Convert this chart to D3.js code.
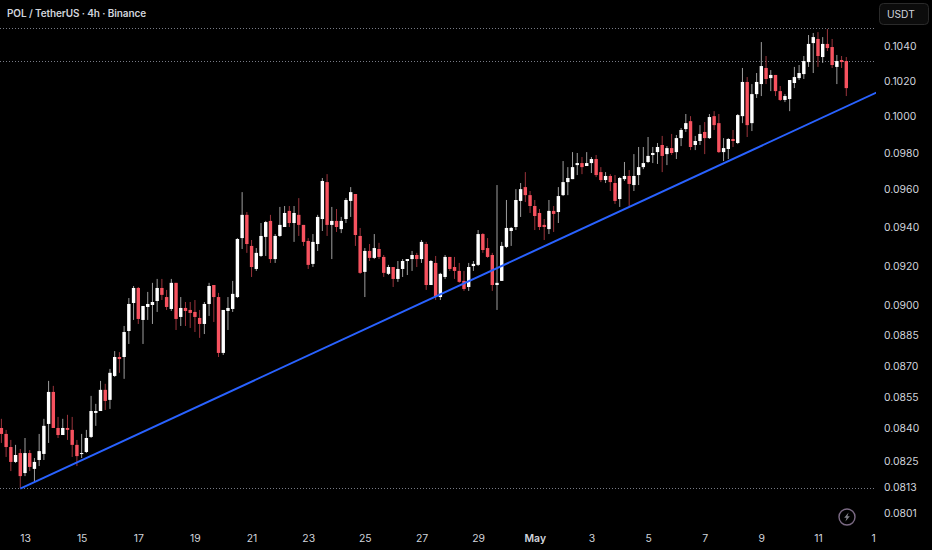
<!DOCTYPE html>
<html>
<head>
<meta charset="utf-8">
<style>
  html, body { margin: 0; padding: 0; background: #000; }
  svg { display: block; }
  text { font-family: Inter, "Noto Sans", sans-serif; }
</style>
<script src="https://cdn.jsdelivr.net/npm/d3@7"></script>
</head>
<body>
<svg id="chart" width="932" height="550"></svg>
<script>
const title = 'POL / TetherUS · 4h · Binance';
const currency = 'USDT';

// 4h candles, oldest first
const opens = [
  0.08400,0.08372,0.08311,0.08242,0.08283,0.08191,0.08283,0.08210,0.08251,0.08279,
  0.08419,0.08571,0.08400,0.08367,0.08400,0.08391,0.08321,0.08279,0.08288,0.08358,
  0.08471,0.08480,0.08581,0.08533,0.08648,0.08740,0.08740,0.08868,0.09008,0.09084,
  0.08923,0.08988,0.08998,0.09018,0.09084,0.09038,0.08978,0.09110,0.08938,0.08983,
  0.08973,0.08963,0.08933,0.08903,0.09003,0.09099,0.09038,0.08760,0.08968,0.08978,
  0.09038,0.09341,0.09463,0.09300,0.09181,0.09248,0.09347,0.09431,0.09232,0.09352,
  0.09399,0.09484,0.09420,0.09463,0.09410,0.09326,0.09207,0.09310,0.09441,0.09638,
  0.09410,0.09431,0.09388,0.09441,0.09537,0.09574,0.09352,0.09166,0.09274,0.09238,
  0.09284,0.09243,0.09156,0.09191,0.09130,0.09181,0.09222,0.09232,0.09253,0.09232,
  0.09310,0.09099,0.09212,0.09038,0.09140,0.09243,0.09191,0.09171,0.09120,0.09089,
  0.09196,0.09202,0.09362,0.09289,0.09253,0.09099,0.09120,0.09295,0.09378,0.09399,
  0.09537,0.09611,0.09568,0.09510,0.09473,0.09410,0.09388,0.09484,0.09478,0.09568,
  0.09638,0.09654,0.09730,0.09741,0.09725,0.09741,0.09763,0.09692,0.09649,0.09671,
  0.09633,0.09547,0.09654,0.09671,0.09622,0.09676,0.09719,0.09747,0.09785,0.09801,
  0.09840,0.09790,0.09823,0.09801,0.09878,0.09928,0.09972,0.09840,0.09862,0.09912,
  0.09878,0.10000,0.09961,0.09801,0.09818,0.09873,0.09851,0.10000,0.10193,0.09961,
  0.10124,0.10181,0.10273,0.10215,0.10233,0.10141,0.10091,0.10096,0.10187,0.10215,
  0.10238,0.10307,0.10417,0.10441,0.10336,0.10412,0.10394,0.10279,0.10319,0.10313,
];
const highs = [
  0.08443,0.08391,0.08344,0.08321,0.08302,0.08353,0.08297,0.08260,0.08372,0.08443,
  0.08624,0.08600,0.08452,0.08443,0.08462,0.08452,0.08344,0.08372,0.08391,0.08552,
  0.08514,0.08624,0.08610,0.08682,0.08769,0.08764,0.08893,0.09033,0.09094,0.09089,
  0.08993,0.09064,0.09110,0.09130,0.09130,0.09074,0.09130,0.09110,0.09038,0.09013,
  0.09013,0.09023,0.08973,0.09013,0.09110,0.09099,0.09059,0.08973,0.09038,0.09120,
  0.09341,0.09584,0.09478,0.09331,0.09289,0.09420,0.09431,0.09463,0.09362,0.09505,
  0.09510,0.09510,0.09510,0.09552,0.09410,0.09341,0.09362,0.09463,0.09660,0.09681,
  0.09505,0.09494,0.09452,0.09552,0.09611,0.09574,0.09394,0.09289,0.09310,0.09362,
  0.09316,0.09253,0.09202,0.09191,0.09222,0.09232,0.09232,0.09274,0.09264,0.09331,
  0.09321,0.09227,0.09248,0.09161,0.09253,0.09243,0.09243,0.09212,0.09171,0.09212,
  0.09222,0.09383,0.09367,0.09341,0.09264,0.09622,0.09321,0.09542,0.09399,0.09600,
  0.09633,0.09692,0.09590,0.09542,0.09494,0.09441,0.09542,0.09510,0.09611,0.09752,
  0.09719,0.09801,0.09796,0.09774,0.09801,0.09774,0.09785,0.09719,0.09692,0.09681,
  0.09676,0.09665,0.09747,0.09703,0.09790,0.09829,0.09829,0.09884,0.09829,0.09851,
  0.09890,0.09834,0.09901,0.09895,0.09934,0.10012,0.10000,0.09890,0.09950,0.09967,
  0.10012,0.10028,0.10012,0.09878,0.09878,0.09923,0.10012,0.10273,0.10221,0.10181,
  0.10244,0.10423,0.10342,0.10261,0.10233,0.10170,0.10124,0.10204,0.10279,0.10290,
  0.10342,0.10464,0.10476,0.10481,0.10452,0.10499,0.10441,0.10348,0.10342,0.10336,
];
const lows = [
  0.08330,0.08265,0.08200,0.08237,0.08123,0.08177,0.08200,0.08150,0.08223,0.08251,
  0.08330,0.08400,0.08353,0.08367,0.08344,0.08265,0.08223,0.08260,0.08283,0.08353,
  0.08410,0.08480,0.08485,0.08490,0.08643,0.08663,0.08634,0.08804,0.08923,0.08903,
  0.08804,0.08923,0.08903,0.08963,0.09023,0.08973,0.08968,0.08873,0.08893,0.08893,
  0.08883,0.08863,0.08834,0.08853,0.08943,0.08913,0.08740,0.08750,0.08873,0.08963,
  0.09033,0.09284,0.09264,0.09140,0.09171,0.09243,0.09248,0.09212,0.09212,0.09347,
  0.09399,0.09399,0.09321,0.09352,0.09300,0.09181,0.09191,0.09274,0.09378,0.09352,
  0.09232,0.09373,0.09367,0.09420,0.09452,0.09300,0.09156,0.09038,0.09222,0.09232,
  0.09232,0.09140,0.09150,0.09089,0.09115,0.09140,0.09150,0.09171,0.09191,0.09212,
  0.09074,0.09099,0.09023,0.09023,0.09130,0.09171,0.09130,0.09110,0.09069,0.09069,
  0.09171,0.09196,0.09264,0.09238,0.09069,0.08973,0.09120,0.09289,0.09300,0.09383,
  0.09452,0.09531,0.09473,0.09383,0.09383,0.09331,0.09362,0.09373,0.09420,0.09563,
  0.09568,0.09654,0.09676,0.09681,0.09725,0.09687,0.09665,0.09638,0.09633,0.09590,
  0.09521,0.09505,0.09644,0.09505,0.09590,0.09622,0.09708,0.09741,0.09741,0.09736,
  0.09692,0.09730,0.09785,0.09763,0.09834,0.09912,0.09812,0.09812,0.09840,0.09790,
  0.09873,0.09923,0.09796,0.09752,0.09763,0.09829,0.09845,0.09961,0.09884,0.09917,
  0.10102,0.10113,0.10181,0.10141,0.10113,0.10085,0.10079,0.10028,0.10158,0.10204,
  0.10210,0.10279,0.10244,0.10279,0.10302,0.10371,0.10273,0.10181,0.10273,0.10113,
];
const closes = [
  0.08372,0.08311,0.08242,0.08274,0.08177,0.08283,0.08219,0.08242,0.08292,0.08410,
  0.08571,0.08400,0.08367,0.08400,0.08391,0.08321,0.08269,0.08283,0.08353,0.08480,
  0.08480,0.08581,0.08528,0.08663,0.08740,0.08730,0.08863,0.09003,0.09084,0.08928,
  0.08993,0.09003,0.09013,0.09084,0.09049,0.08988,0.09110,0.08928,0.08983,0.08968,
  0.08958,0.08938,0.08903,0.09003,0.09094,0.09038,0.08760,0.08973,0.08983,0.09054,
  0.09336,0.09463,0.09310,0.09191,0.09264,0.09352,0.09425,0.09232,0.09352,0.09410,
  0.09473,0.09420,0.09473,0.09410,0.09321,0.09202,0.09321,0.09452,0.09644,0.09410,
  0.09431,0.09399,0.09431,0.09542,0.09584,0.09357,0.09161,0.09274,0.09238,0.09289,
  0.09243,0.09161,0.09191,0.09130,0.09181,0.09222,0.09232,0.09253,0.09232,0.09321,
  0.09099,0.09222,0.09043,0.09156,0.09243,0.09181,0.09171,0.09115,0.09079,0.09191,
  0.09207,0.09362,0.09279,0.09243,0.09099,0.09110,0.09300,0.09394,0.09394,0.09542,
  0.09600,0.09568,0.09510,0.09457,0.09399,0.09399,0.09484,0.09468,0.09563,0.09638,
  0.09660,0.09719,0.09741,0.09719,0.09741,0.09763,0.09676,0.09649,0.09671,0.09638,
  0.09537,0.09660,0.09671,0.09628,0.09671,0.09719,0.09741,0.09780,0.09796,0.09829,
  0.09780,0.09823,0.09796,0.09878,0.09923,0.09961,0.09829,0.09862,0.09901,0.09878,
  0.09995,0.09950,0.09801,0.09823,0.09873,0.09862,0.10006,0.10193,0.09950,0.10124,
  0.10193,0.10284,0.10210,0.10233,0.10141,0.10091,0.10113,0.10204,0.10221,0.10244,
  0.10313,0.10412,0.10452,0.10342,0.10412,0.10388,0.10290,0.10313,0.10307,0.10158,
];

const priceTicks = [0.1040, 0.1020, 0.1000, 0.0980, 0.0960, 0.0940, 0.0920, 0.0900, 0.0885, 0.0870, 0.0855, 0.0840, 0.0825, 0.0813, 0.0801];
const dayTicks = [5, 17, 29, 41, 53, 65, 77, 89, 101, 113, 125, 137, 149, 161, 173, 184.7];
const dayLabels = ['13', '15', '17', '19', '21', '23', '25', '27', '29', 'May', '3', '5', '7', '9', '11', '1'];

// horizontal dotted levels and the hand drawn trend line
const levels = [0.10502, 0.10313, 0.0812];
const trendIndex = [4, 185.4];
const trendPrice = [0.0812, 0.10133];

const width = 932;
const height = 550;
const plotRight = 876;
const red = '#f7525f';
const white = '#ffffff';
const labelColor = '#d1d4dc';
const axisFontSize = 10.4;

const svg = d3.select('#chart');

const x = d3.scaleLinear().domain([0, 179]).range([1.4, 846.3]);
const y = d3.scaleLog().domain([0.1040, 0.0801]).range([46, 513]);

svg.append('rect')
    .attr('width', width)
    .attr('height', height)
    .attr('fill', '#000');

svg.append('defs').append('clipPath')
    .attr('id', 'plot-clip')
  .append('rect')
    .attr('width', plotRight)
    .attr('height', 526);

const plot = svg.append('g').attr('clip-path', 'url(#plot-clip)');

plot.selectAll('.level')
    .data(levels)
  .join('line')
    .attr('class', 'level')
    .attr('x1', 0)
    .attr('x2', plotRight)
    .attr('y1', d => Math.floor(y(d)) + 0.5)
    .attr('y2', d => Math.floor(y(d)) + 0.5)
    .attr('stroke', '#787b86')
    .attr('stroke-width', 1)
    .attr('stroke-dasharray', '1 2');

const candles = plot.selectAll('.candle')
    .data(d3.range(opens.length))
  .join('g')
    .attr('class', 'candle');

candles.append('line')
    .attr('x1', i => x(i))
    .attr('x2', i => x(i))
    .attr('y1', i => y(highs[i]))
    .attr('y2', i => y(lows[i]))
    .attr('stroke', i => closes[i] < opens[i] ? red : white)
    .attr('stroke-opacity', 0.62)
    .attr('stroke-width', 1);

candles.append('rect')
    .attr('x', i => x(i) - 1.7)
    .attr('width', 3.4)
    .attr('y', i => y(Math.max(opens[i], closes[i])))
    .attr('height', i => Math.max(1, Math.abs(y(opens[i]) - y(closes[i]))))
    .attr('fill', i => closes[i] < opens[i] ? red : white);

plot.append('line')
    .attr('x1', x(trendIndex[0]))
    .attr('x2', x(trendIndex[1]))
    .attr('y1', y(trendPrice[0]))
    .attr('y2', y(trendPrice[1]))
    .attr('stroke', '#2962ff')
    .attr('stroke-width', 2);

const priceAxis = svg.append('g')
    .attr('transform', 'translate(884,0.5)')
    .call(d3.axisRight(y).tickValues(priceTicks).tickFormat(d3.format('.4f')).tickSize(0).tickPadding(0));

const timeAxis = svg.append('g')
    .attr('transform', 'translate(0,535)')
    .call(d3.axisBottom(x).tickValues(dayTicks).tickFormat((d, i) => dayLabels[i]).tickSize(0).tickPadding(0));

priceAxis.select('.domain').remove();
timeAxis.select('.domain').remove();

priceAxis.selectAll('text')
    .attr('fill', labelColor)
    .attr('font-size', axisFontSize)
    .style('font-family', 'Inter, sans-serif');

timeAxis.selectAll('text')
    .attr('fill', labelColor)
    .attr('font-size', axisFontSize)
    .attr('font-weight', (d, i) => dayLabels[i] === 'May' ? 600 : 400)
    .style('font-family', 'Inter, sans-serif');

svg.append('text')
    .attr('x', 7)
    .attr('y', 16.6)
    .attr('fill', labelColor)
    .attr('font-size', 10)
    .attr('font-weight', 600)
    .attr('letter-spacing', -0.1)
    .text(title);

svg.append('rect')
    .attr('x', 879.5)
    .attr('y', 3.5)
    .attr('width', 49)
    .attr('height', 21)
    .attr('rx', 4)
    .attr('fill', '#0c0c0c')
    .attr('stroke', '#2a2a2a');

svg.append('text')
    .attr('x', 887)
    .attr('y', 17.7)
    .attr('fill', labelColor)
    .attr('font-size', 10.2)
    .text(currency);

// bolt badge in the corner
const badge = svg.append('g').attr('transform', 'translate(847,517)');

badge.append('circle')
    .attr('r', 8)
    .attr('fill', 'none')
    .attr('stroke', '#7b6a84')
    .attr('stroke-width', 1.4);

badge.append('path')
    .attr('d', 'M1.6 -4.4 L-2.8 0.8 L-0.4 0.8 L-1.6 4.4 L2.8 -0.8 L0.4 -0.8 Z')
    .attr('fill', '#85858d');
</script>
</body>
</html>
